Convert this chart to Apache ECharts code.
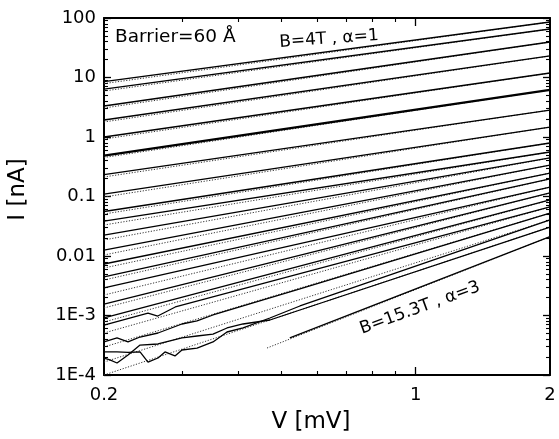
<!DOCTYPE html>
<html><head><meta charset="utf-8">
<script src="https://cdn.jsdelivr.net/npm/echarts@6/dist/echarts.min.js"></script>
<style>html,body{margin:0;padding:0;background:#fff}#c{width:559px;height:439px}</style>
</head><body><div id="c"></div>
<script>
// ---- data (V in mV, I in nA) ----
// measured curves (solid), from top (B=4T, alpha=1) to bottom (B=15.3T, alpha=3)
const solidV = [
  [0.2, 2], [0.2, 2], [0.2, 2], [0.2, 2], [0.2, 2], [0.2, 2], [0.2, 2],
  [0.2, 2], [0.2, 2], [0.2, 2], [0.2, 2], [0.2, 2], [0.2, 2], [0.2, 2],
  [0.2, 2], [0.2, 2], [0.2, 2],
  [0.2, 0.251, 0.264, 0.289, 2],
  [0.2, 0.2139, 0.2264, 0.2409, 0.2643, 0.2991, 0.3233, 0.3511, 0.410, 0.550, 2],
  [0.2, 0.2139, 0.2264, 0.2409, 0.2510, 0.2643, 0.2740, 0.2885, 0.2991, 0.3233, 0.3511, 0.3774, 0.410, 0.471, 0.550, 2],
  [0.2, 0.2062, 0.2139, 0.2264, 0.2409, 0.2643, 0.2991, 0.3233, 0.3511, 0.3774, 0.410, 0.471, 0.550, 2],
  [0.522, 2]
];
const solidI = [
  [8.5, 85.7], [6.4, 65.3], [3.32, 39.5], [1.93, 23.0], [1.0, 11.9], [0.485, 6.17], [0.234, 2.84],
  [0.110, 1.47], [0.056, 0.793], [0.0387, 0.560], [0.0225, 0.444], [0.0126, 0.338], [0.00734, 0.248], [0.00444, 0.197],
  [0.0029, 0.144], [0.00156, 0.115], [0.000908, 0.0874],
  [0.000692, 0.00110, 0.00098, 0.00139, 0.0667],
  [3.59e-4, 4.19e-4, 3.59e-4, 4.35e-4, 5.08e-4, 7.2e-4, 8.09e-4, 1.02e-3, 1.445e-3, 2.79e-3, 0.0528],
  [2.44e-4, 2.44e-4, 2.40e-4, 2.44e-4, 1.65e-4, 1.93e-4, 2.44e-4, 2.09e-4, 2.63e-4, 2.84e-4, 3.59e-4, 5.28e-4, 6.17e-4, 9.08e-4, 1.445e-3, 0.0403],
  [1.93e-4, 1.79e-4, 1.59e-4, 2.17e-4, 3.19e-4, 3.32e-4, 4.19e-4, 4.52e-4, 4.88e-4, 6.17e-4, 7.2e-4, 8.4e-4, 1.237e-3, 0.0307],
  [4.19e-4, 0.0211]
];
const thickCurve = 5; // the bold curve
// power-law fits (dotted): start point and end point
const fitStartV = [0.2,0.2,0.2,0.2,0.2,0.2,0.2,0.2,0.2,0.2,0.2,0.2,0.2,0.2,0.2,0.2,0.2,0.2,0.2,0.2,0.2,0.464];
const fitStartI = [7.9, 5.93, 3.07, 1.79, 0.925, 0.452, 0.213, 0.098, 0.0508, 0.0332, 0.0186, 0.0104, 0.00629, 0.00395,
                   0.00221, 0.00134, 0.000778, 0.000508, 0.000296, 0.000165, 0.0001, 0.000284];
const fitEndV = [2,2,2,2,2,2,2,2,2,2,2,2,2,2,2,2,2,2,2,2,2,2];
const fitEndI = [85.7, 65.3, 39.5, 23.0, 11.9, 6.17, 2.84, 1.47, 0.793, 0.560, 0.444, 0.338, 0.248, 0.197,
                 0.144, 0.115, 0.0874, 0.0667, 0.0528, 0.0403, 0.0307, 0.0211];

// axis ticks
const xTickValues = [0.2, 1, 2];
const xTickLabels = ['0.2', '1', '2'];
const xMajorTicks = [1];
const xMinorTicks = [0.3, 0.4, 0.5, 0.6, 0.7, 0.8, 0.9];
const yTickValues = [1e-4, 1e-3, 0.01, 0.1, 1, 10, 100];
const yTickLabels = ['1E-4', '1E-3', '0.01', '0.1', '1', '10', '100'];
const yMinorMultipliers = [2, 3, 4, 5, 6, 7, 8, 9];

// annotations
const textBarrier = 'Barrier=60 Å';
const textLow = 'B=4T , α=1';
const textHigh = 'B=15.3T , α=3';

// ---- chart ----
const FONT = 'DejaVu Sans';
const yMinorTicks = [];
yTickValues.slice(0, -1).forEach(d => yMinorMultipliers.forEach(m => yMinorTicks.push(+(d * m).toPrecision(4))));

function lookup(vals, labels) {
  return function (v) {
    for (let i = 0; i < vals.length; i++) {
      if (Math.abs(Math.log10(v) - Math.log10(vals[i])) < 1e-6) return labels[i];
    }
    return '';
  };
}

function axisBase(kind, pos) {
  const isX = kind === 'x';
  return {
    type: 'log', logBase: 10,
    min: isX ? 0.2 : 1e-4, max: isX ? 2 : 100,
    position: pos,
    splitLine: { show: false },
    axisLine: { show: false },
    axisLabel: { show: false },
    axisTick: { show: false },
    silent: true
  };
}
function major(kind, pos, withLabels) {
  const isX = kind === 'x';
  const a = axisBase(kind, pos);
  a.axisLine = { show: true, onZero: false, lineStyle: { color: '#000', width: 2 } };
  a.axisTick = { show: true, inside: true, length: isX ? 8 : 7, customValues: isX ? xMajorTicks : yTickValues,
                 lineStyle: { color: '#000', width: 1.3 } };
  if (withLabels) {
    a.axisLabel = {
      show: true, customValues: isX ? xTickValues : yTickValues,
      formatter: isX ? lookup(xTickValues, xTickLabels) : lookup(yTickValues, yTickLabels),
      color: '#000', fontFamily: FONT, fontSize: 18, margin: isX ? 11 : 8, hideOverlap: false
    };
  }
  return a;
}
function minor(kind, pos) {
  const isX = kind === 'x';
  const a = axisBase(kind, pos);
  a.axisTick = { show: true, inside: true, length: 4, customValues: isX ? xMinorTicks : yMinorTicks,
                 lineStyle: { color: '#000', width: 1.1 } };
  return a;
}

const xMain = major('x', 'bottom', true);
xMain.name = 'V [mV]';
xMain.nameLocation = 'middle';
xMain.nameGap = 36;
xMain.nameTextStyle = { fontFamily: FONT, fontSize: 23, color: '#000', padding: [0, 32, 0, 0] };

const yMain = major('y', 'left', true);
yMain.name = 'I [nA]';
yMain.nameLocation = 'middle';
yMain.nameGap = 74;
yMain.nameTextStyle = { fontFamily: FONT, fontSize: 23, color: '#000', padding: [0, 0, 0, 14] };

const series = [];
for (let k = 0; k < fitStartV.length; k++) {
  series.push({
    type: 'line', xAxisIndex: 0, yAxisIndex: 0, showSymbol: false, silent: true, z: 2,
    data: [[fitStartV[k], fitStartI[k]], [fitEndV[k], fitEndI[k]]],
    lineStyle: { color: '#333', width: 1, type: [1.2, 1.6] }
  });
}
for (let k = 0; k < solidV.length; k++) {
  series.push({
    type: 'line', xAxisIndex: 0, yAxisIndex: 0, showSymbol: false, silent: true, z: 3,
    data: solidV[k].map((v, j) => [v, solidI[k][j]]),
    lineStyle: { color: '#000', width: k === thickCurve ? 2.3 : 1.3 }
  });
}

const chart = echarts.init(document.getElementById('c'));
chart.setOption({
  animation: false,
  backgroundColor: '#fff',
  grid: { left: 104, right: 9, top: 18, bottom: 64, containLabel: false, outerBoundsMode: 'none' },
  xAxis: [xMain, minor('x', 'bottom'), major('x', 'top', false), minor('x', 'top')],
  yAxis: [yMain, minor('y', 'left'), major('y', 'right', false), minor('y', 'right')],
  series: series,
  graphic: [
    { type: 'text', x: 115, y: 37, silent: true,
      style: { text: textBarrier, fontFamily: FONT, fontSize: 18.5, fill: '#000', align: 'left', verticalAlign: 'middle', textAlign: 'left', textVerticalAlign: 'middle' } },
    { type: 'text', x: 329, y: 39, rotation: 4 * Math.PI / 180, silent: true,
      style: { text: textLow, fontFamily: FONT, fontSize: 17, fill: '#000', align: 'center', verticalAlign: 'middle', textAlign: 'center', textVerticalAlign: 'middle' } },
    { type: 'text', x: 420, y: 308, rotation: 20 * Math.PI / 180, silent: true,
      style: { text: textHigh, fontFamily: FONT, fontSize: 17, fill: '#000', align: 'center', verticalAlign: 'middle', textAlign: 'center', textVerticalAlign: 'middle' } }
  ]
});
</script>
</body></html>
